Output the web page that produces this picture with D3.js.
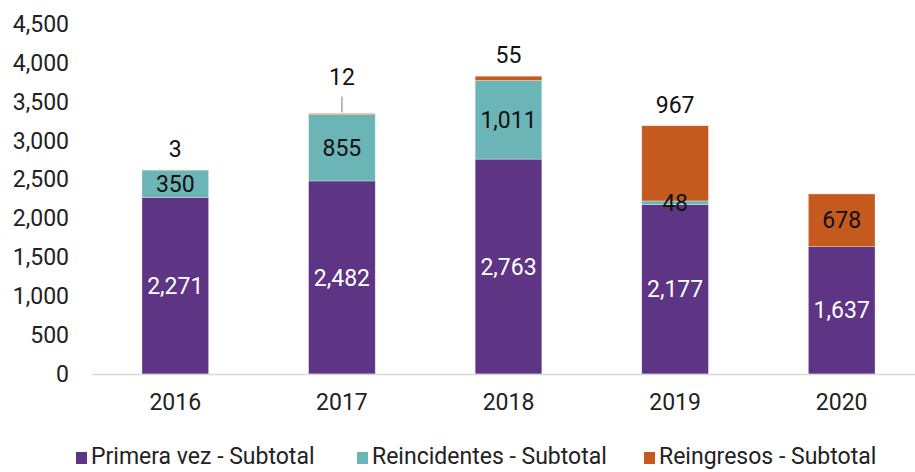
<!DOCTYPE html>
<html>
<head>
<meta charset="utf-8">
<script src="https://cdn.jsdelivr.net/npm/d3@7"></script>
<style>
  body { margin: 0; background: #fff; }
  text { font-family: Roboto, "Noto Sans", sans-serif; }
</style>
</head>
<body>
<div id="chart"></div>
<script>
var years = ['2016', '2017', '2018', '2019', '2020'];
var primeraVez = [2271, 2482, 2763, 2177, 1637];
var reincidentes = [350, 855, 1011, 48, 0];
var reingresos = [3, 12, 55, 967, 678];
var seriesNames = ['Primera vez - Subtotal', 'Reincidentes - Subtotal', 'Reingresos - Subtotal'];
var yTicks = [0, 500, 1000, 1500, 2000, 2500, 3000, 3500, 4000, 4500];

var w = 915;
var h = 472;
var fs = 23;
var colors = ['#5d3584', '#6bb5b6', '#c55a1f'];
var labelColors = ['#fff', '#111', '#111'];

var svg = d3.select('#chart')
            .append('svg')
            .attr('width', w)
            .attr('height', h);

var xScale = d3.scaleBand()
               .domain(years)
               .range([92, 925])
               .paddingInner(0.6)
               .paddingOuter(0.3);

var yScale = d3.scaleLinear()
               .domain([0, 4500])
               .range([374, 24]);

var table = years.map(function(y, i) {
  return { year: y, s0: primeraVez[i], s1: reincidentes[i], s2: reingresos[i] };
});
var stack = d3.stack().keys(['s0', 's1', 's2'])(table);

// y axis (labels only)
var yAxis = d3.axisLeft(yScale)
              .tickValues(yTicks)
              .tickFormat(d3.format(','))
              .tickSize(0)
              .tickPadding(0);
svg.append('g')
   .attr('transform', 'translate(69,0)')
   .call(yAxis)
   .call(g => g.select('.domain').remove())
   .selectAll('text')
   .attr('font-size', fs)
   .attr('fill', '#222');

// bars
svg.selectAll('g.series')
   .data(stack)
   .enter()
   .append('g')
   .attr('class', 'series')
   .attr('fill', (d, i) => colors[i])
   .selectAll('rect')
   .data(d => d)
   .enter()
   .append('rect')
   .attr('x', d => xScale(d.data.year))
   .attr('y', d => yScale(d[1]))
   .attr('width', xScale.bandwidth())
   .attr('height', d => yScale(d[0]) - yScale(d[1]))
   .attr('stroke', '#fff')
   .attr('stroke-opacity', 0.5)
   .attr('stroke-width', 0.6);

// x axis
var xAxis = d3.axisBottom(xScale).tickSize(0).tickPadding(20);
svg.append('g')
   .attr('transform', 'translate(0,374)')
   .call(xAxis)
   .call(g => g.select('.domain').attr('d', 'M92,0.5H915').attr('stroke', '#d9d9d9').attr('stroke-width', 1.5))
   .selectAll('text')
   .attr('font-size', fs)
   .attr('fill', '#222');

// data labels
stack.forEach(function(layer, si) {
  layer.forEach(function(d, i) {
    var v = d[1] - d[0];
    if (v === 0) return;
    var cx = xScale(d.data.year) + xScale.bandwidth() / 2;
    var cy = (yScale(d[0]) + yScale(d[1])) / 2;
    var above = si === 2 && i < 4;
    if (above) {
      var lift = i === 1 ? 37 : 21;
      cy = yScale(d[1]) - lift;
      if (i === 1) {
        svg.append('line')
           .attr('x1', cx).attr('x2', cx)
           .attr('y1', cy + 20).attr('y2', yScale(d[1]) - 1)
           .attr('stroke', '#a6a6a6')
           .attr('stroke-width', 1.5);
      }
    }
    svg.append('text')
       .attr('x', cx)
       .attr('y', cy)
       .attr('dy', '0.35em')
       .attr('text-anchor', 'middle')
       .attr('font-size', fs)
       .attr('fill', above ? '#111' : labelColors[si])
       .text(d3.format(',')(v));
  });
});

// legend
var legendX = [76, 357, 644];
var legend = svg.selectAll('g.legend')
                .data(seriesNames)
                .enter()
                .append('g')
                .attr('class', 'legend')
                .attr('transform', (d, i) => `translate(${legendX[i]},456)`);
legend.append('rect')
      .attr('x', 0).attr('y', -4)
      .attr('width', 11).attr('height', 12)
      .attr('fill', (d, i) => colors[i]);
legend.append('text')
      .attr('x', 15)
      .attr('y', 0)
      .attr('dy', '0.35em')
      .attr('font-size', fs)
      .attr('fill', '#222')
      .text(d => d);
</script>
</body>
</html>
